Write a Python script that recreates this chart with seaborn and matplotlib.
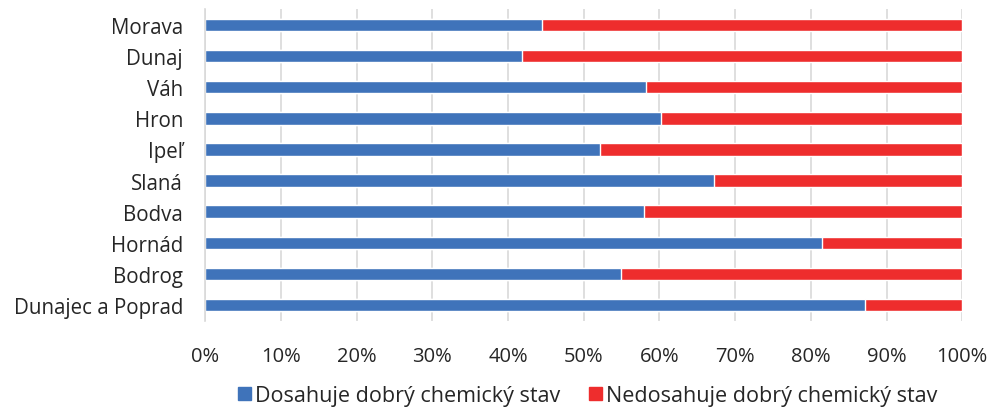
import pandas as pd
import matplotlib.pyplot as plt
import seaborn as sns
from matplotlib.patches import Patch

# Chart data (share of water bodies, %)
rivers = ['Morava', 'Dunaj', 'Váh', 'Hron', 'Ipeľ', 'Slaná', 'Bodva', 'Hornád', 'Bodrog', 'Dunajec a Poprad']
good = [44.5, 41.9, 58.2, 60.2, 52.2, 67.2, 57.9, 81.5, 54.9, 87.2]
not_good = [100 - g for g in good]

df = pd.DataFrame({'river': rivers, 'good': good, 'not_good': not_good})
df['total'] = df['good'] + df['not_good']

blue = '#3F73BA'
red = '#EE2D2D'

sns.set_style('white')
plt.rcParams['font.family'] = ['Open Sans', 'DejaVu Sans']

fig, ax = plt.subplots(figsize=(9.91, 4.14), dpi=100)
plt.subplots_adjust(left=0.207, right=0.971, top=0.975, bottom=0.223)

# stacked: full bar red, then blue part on top
sns.barplot(data=df, y='river', x='total', color=red, orient='h', width=0.4, ax=ax, saturation=1)
sns.barplot(data=df, y='river', x='good', color=blue, orient='h', width=0.4, ax=ax, saturation=1)

ax.set_xlim(0, 100)
ax.set_xticks(range(0, 101, 10))
ax.set_xticklabels([f'{t}%' for t in range(0, 101, 10)])
ax.xaxis.grid(True, color='#D9D9D9', linewidth=1.2)
ax.set_axisbelow(True)
ax.set_xlabel('')
ax.set_ylabel('')
for s in ['top', 'right', 'bottom']:
    ax.spines[s].set_visible(False)
ax.spines['left'].set_color('#D9D9D9')
ax.spines['left'].set_linewidth(1.2)
ax.tick_params(axis='x', length=0, pad=18, labelsize=14.5, colors='#262626')
ax.tick_params(axis='y', length=0, pad=16, labelsize=14.8, colors='#262626')

handles = [Patch(color=blue, label='Dosahuje dobrý chemický stav'),
           Patch(color=red, label='Nedosahuje dobrý chemický stav')]
fig.legend(handles=handles, loc='center', bbox_to_anchor=(0.593, 0.042), ncol=2, frameon=False,
           fontsize=15.5, handlelength=0.6, handleheight=0.6, handletextpad=0.2, columnspacing=1.3,
           labelcolor='#262626')

fig.savefig('out.png', dpi=100)
